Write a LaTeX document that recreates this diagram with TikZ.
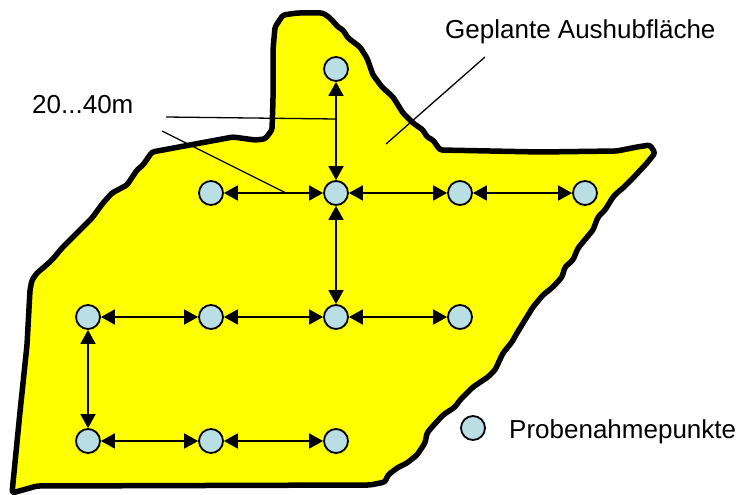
\documentclass[tikz,border=0pt]{standalone}
\usepackage{fontspec}
\setmainfont{Liberation Sans}
\usetikzlibrary{arrows.meta}
\definecolor{areaYellow}{RGB}{255,255,0}
\definecolor{ptBlue}{RGB}{185,223,228}
\begin{document}
\begin{tikzpicture}[x=1pt,y=-1pt,
  pt/.style={circle,draw=black,fill=ptBlue,line width=1.8pt,inner sep=0pt,minimum size=24pt},
  arr/.style={{Triangle[length=14pt,width=15pt]}-{Triangle[length=14pt,width=15pt]},line width=1.8pt},
  leader/.style={line width=1.3pt},
  lbl/.style={font=\fontsize{26}{31}\selectfont,inner sep=0pt,anchor=base west},
  area/.style={draw=black,fill=areaYellow,line width=5.5pt,line join=round,rounded corners=2.5pt}]
\useasboundingbox (0,0) rectangle (744,495);
% area outline
\draw[area] (297,13) -- (323,13) -- (330,18) -- (338,27) -- (343,30) -- (348,38) -- (360,47) -- (367,58) -- (373,75) -- (382,87) -- (393,97) -- (403,113) -- (413,123) -- (423,130) -- (427,137) -- (433,140) -- (440,150) -- (540,152) -- (617,151) -- (637,147) -- (650,145) -- (655,153) -- (647,163) -- (633,178) -- (623,188) -- (618,192) -- (613,197) -- (605,210) -- (598,217) -- (593,230) -- (583,242) -- (578,248) -- (573,260) -- (565,267) -- (562,277) -- (553,287) -- (543,295) -- (533,307) -- (525,320) -- (517,333) -- (512,342) -- (503,353) -- (495,370) -- (488,377) -- (473,387) -- (460,400) -- (455,407) -- (443,415) -- (432,427) -- (427,433) -- (425,443) -- (417,455) -- (407,463) -- (397,468) -- (388,475) -- (385,482) -- (370,485) -- (37,486) -- (12,493) -- (20,412) -- (27,345) -- (30,290) -- (32,280) -- (37,273) -- (43,268) -- (52,260) -- (62,248) -- (82,228) -- (92,218) -- (103,203) -- (112,193) -- (127,185) -- (137,170) -- (143,165) -- (152,152) -- (233,137) -- (255,140) -- (265,139) -- (272,130) -- (273,100) -- (273,50) -- (275,27) -- (283,15) -- cycle;
% points
\node[pt] (t)  at (336,69) {};
\node[pt] (a1) at (211,193) {};
\node[pt] (a2) at (336,193) {};
\node[pt] (a3) at (460,193) {};
\node[pt] (a4) at (585,193) {};
\node[pt] (b1) at (88,317) {};
\node[pt] (b2) at (211,317) {};
\node[pt] (b3) at (336,317) {};
\node[pt] (b4) at (460,317) {};
\node[pt] (c1) at (88,441) {};
\node[pt] (c2) at (211,441) {};
\node[pt] (c3) at (336,441) {};
% arrows
\draw[arr] (t) -- (a2);
\draw[arr] (a1) -- (a2);
\draw[arr] (a2) -- (a3);
\draw[arr] (a3) -- (a4);
\draw[arr] (a2) -- (b3);
\draw[arr] (b1) -- (b2);
\draw[arr] (b2) -- (b3);
\draw[arr] (b3) -- (b4);
\draw[arr] (b1) -- (c1);
\draw[arr] (c1) -- (c2);
\draw[arr] (c2) -- (c3);
% labels
\node[lbl] (dist) at (32,113) {20...40m};
\node[lbl] (geo) at (445,39) {Geplante Aushubfläche};
\node[pt] (leg) at (473,428) {};
\node[lbl] (legt) at (509,438) {Probenahmepunkte};
% leaders
\coordinate (d1s) at (166,117);
\coordinate (d1e) at (336,119);
\coordinate (d2s) at (162,131);
\coordinate (d2e) at (286,193);
\coordinate (gs) at (485,57);
\coordinate (ge) at (386,144);
\draw[leader] (d1s) -- (d1e);
\draw[leader] (d2s) -- (d2e);
\draw[leader] (gs) -- (ge);
\end{tikzpicture}
\end{document}
